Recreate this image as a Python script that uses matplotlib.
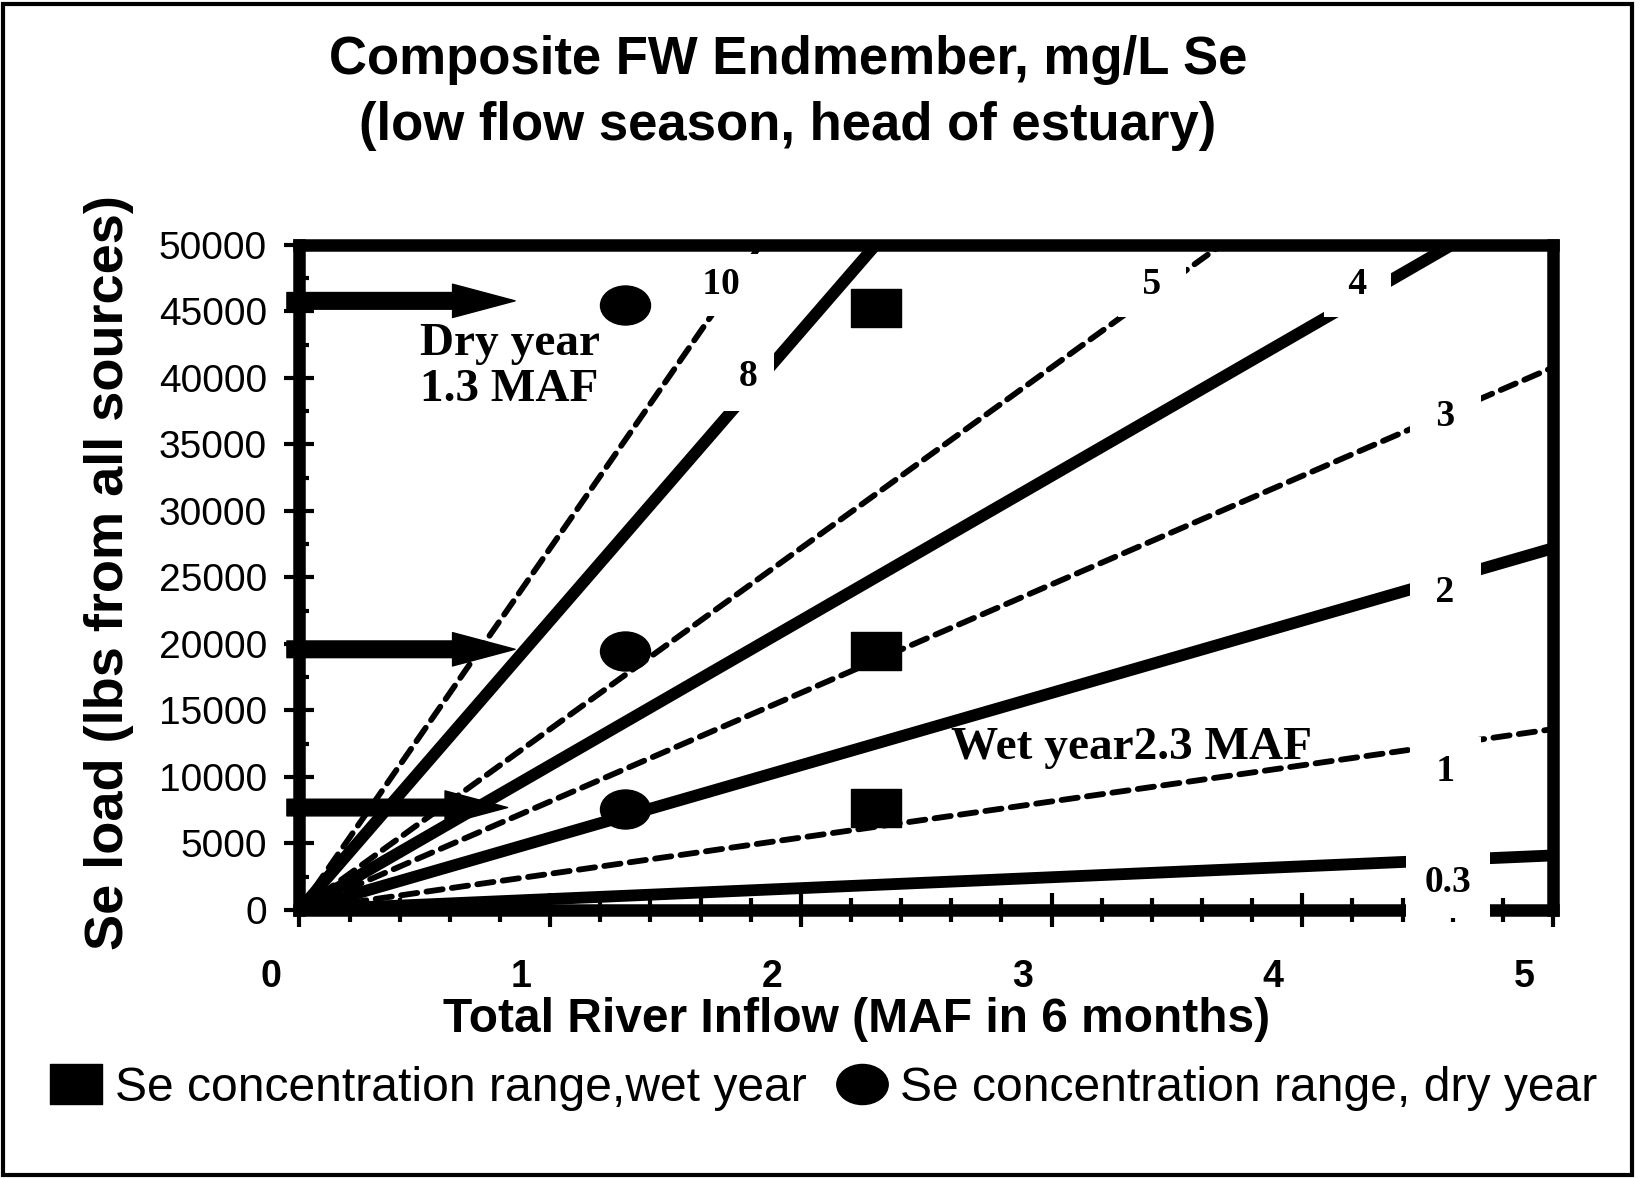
import matplotlib
matplotlib.use("Agg")
import matplotlib.pyplot as plt
import matplotlib.transforms as mtransforms
from matplotlib.lines import Line2D
from matplotlib.path import Path
from matplotlib.patches import Rectangle

# concentration lines (ug/L Se) and Se load they reach at 5 MAF
conc_labels = ['0.3', '1', '2', '3', '4', '5', '8', '10']
load_at_5maf = [4100, 13600, 27200, 40800, 54400, 68000, 108800, 136000]
flow_ends = [0, 5]

# dry year (1.3 MAF) and wet year (2.3 MAF) concentration range points
dry_flow = [1.3, 1.3, 1.3]
dry_load = [45500, 19500, 7600]
wet_flow = [2.3, 2.3, 2.3]
wet_load = [45300, 19500, 7700]

# arrows pointing at the load levels
arrow_loads = [45800, 19600, 7700]
arrow_ends = [0.86, 0.86, 0.83]

xticks = [0, 1, 2, 3, 4, 5]
yticks = list(range(0, 50001, 5000))

# where the line labels sit (data coords) and how much white box around them
label_pos = {'0.3': (4.58, 2100), '1': (4.57, 10400), '2': (4.57, 23900),
             '3': (4.57, 37100), '4': (4.22, 47000), '5': (3.40, 47000),
             '8': (1.79, 40100), '10': (1.68, 47000)}
label_txt = {'0.3': '0.3', '1': ' 1 ', '2': ' 2 ', '3': ' 3 ', '4': ' 4 ',
             '5': ' 5 ', '8': '8', '10': ' 10 '}
label_pad = {'0.3': 0.5, '1': 0.45, '2': 0.45, '3': 0.45, '4': 0.4,
             '5': 0.4, '8': 0.45, '10': 0.35}

sans = ['Liberation Sans', 'DejaVu Sans']
serif = ['Liberation Serif', 'DejaVu Serif']

fig = plt.figure(figsize=(16.48, 11.79), dpi=100)
ax = fig.add_axes([0.1817, 0.2282, 0.7607, 0.564])

for lab, v in zip(conc_labels, load_at_5maf):
    if lab in ('1', '3', '5', '10'):
        ax.plot(flow_ends, [0, v], color='black', lw=4.2,
                dashes=(2.8, 1.6), dash_capstyle='round', zorder=2)
    else:
        ax.plot(flow_ends, [0, v], color='black', lw=8.5,
                solid_capstyle='butt', zorder=2)

# slightly oval markers like the original
circ = Path.unit_circle()
ellipse = Path(circ.vertices * [1.0, 0.78], circ.codes)
rect = Path([(-1, -0.76), (1, -0.76), (1, 0.76), (-1, 0.76), (-1, -0.76)],
            [Path.MOVETO, Path.LINETO, Path.LINETO, Path.LINETO, Path.CLOSEPOLY])

ax.plot(dry_flow, dry_load, linestyle='none', marker=ellipse, ms=36,
        color='black', zorder=5, clip_on=False)
ax.plot(wet_flow, wet_load, linestyle='none', marker=rect, ms=36,
        color='black', zorder=5, clip_on=False)

for y, xe in zip(arrow_loads, arrow_ends):
    ax.annotate('', xy=(xe, y), xytext=(-0.05, y),
                arrowprops=dict(arrowstyle='simple,head_length=4.5,head_width=2.4,tail_width=1.2',
                                color='black', shrinkA=0, shrinkB=0, mutation_scale=10),
                annotation_clip=False, zorder=6)

for lab in conc_labels:
    x, y = label_pos[lab]
    ax.text(x, y, label_txt[lab], ha='center', va='center', fontsize=27,
            fontweight='bold', family=serif, zorder=7,
            bbox=dict(facecolor='white', edgecolor='none',
                      boxstyle='square,pad=%s' % label_pad[lab]))

ax.text(0.48, 40800, 'Dry year\n1.3 MAF', ha='left', va='center', fontsize=34,
        fontweight='bold', family=serif, linespacing=1.12, zorder=7)
ax.text(2.6, 12200, 'Wet year2.3 MAF', ha='left', va='center', fontsize=34,
        fontweight='bold', family=serif, zorder=7)

ax.set_xlim(0, 5)
ax.set_ylim(0, 50000)
ax.set_xticks(xticks)
ax.set_xticks([i * 0.2 for i in range(26)], minor=True)
ax.set_yticks(yticks)
ax.set_yticks([2500 + 5000 * i for i in range(10)], minor=True)
ax.set_xticklabels([str(t) for t in xticks], fontsize=27, fontweight='bold', family=sans)
ax.set_yticklabels([str(t) for t in yticks], fontsize=28, family=sans)
ax.tick_params(axis='x', which='major', direction='inout', length=24, width=3, pad=23)
ax.tick_params(axis='x', which='minor', direction='inout', length=17, width=3)
ax.tick_params(axis='y', which='major', direction='inout', length=21, width=3, pad=13)
ax.tick_params(axis='y', which='minor', direction='in', length=7, width=3)
offset = mtransforms.ScaledTranslation(-0.29, 0, fig.dpi_scale_trans)
for t in ax.get_xticklabels():
    t.set_transform(t.get_transform() + offset)

for s in ax.spines.values():
    s.set_linewidth(9)
    s.set_zorder(3)

fig.text(0.478, 0.949, 'Composite FW Endmember, mg/L Se', ha='center', va='center',
         fontsize=38, fontweight='bold', family=sans)
fig.text(0.478, 0.893, '(low flow season, head of estuary)', ha='center', va='center',
         fontsize=38, fontweight='bold', family=sans)
fig.text(0.066, 0.514, 'Se load (lbs from all sources)', rotation=90, ha='center',
         va='center', fontsize=39, fontweight='bold', family=sans)
fig.text(0.52, 0.135, 'Total River Inflow (MAF in 6 months)', ha='center', va='center',
         fontsize=34.5, fontweight='bold', family=sans)

handles = [Line2D([], [], linestyle='none', marker=rect, ms=38, color='black'),
           Line2D([], [], linestyle='none', marker=ellipse, ms=37, color='black')]
fig.legend(handles, ['Se concentration range,wet year', 'Se concentration range, dry year'],
           loc='center', bbox_to_anchor=(0.5005, 0.077), ncol=2, frameon=False,
           prop={'family': sans, 'size': 34.6}, handlelength=1.0, handletextpad=0.3,
           columnspacing=0.65, borderaxespad=0)

fig.add_artist(Rectangle((0.002, 0.003), 0.988, 0.994, transform=fig.transFigure,
                         fill=False, edgecolor='black', lw=3))

fig.savefig('out.png', dpi=100)
